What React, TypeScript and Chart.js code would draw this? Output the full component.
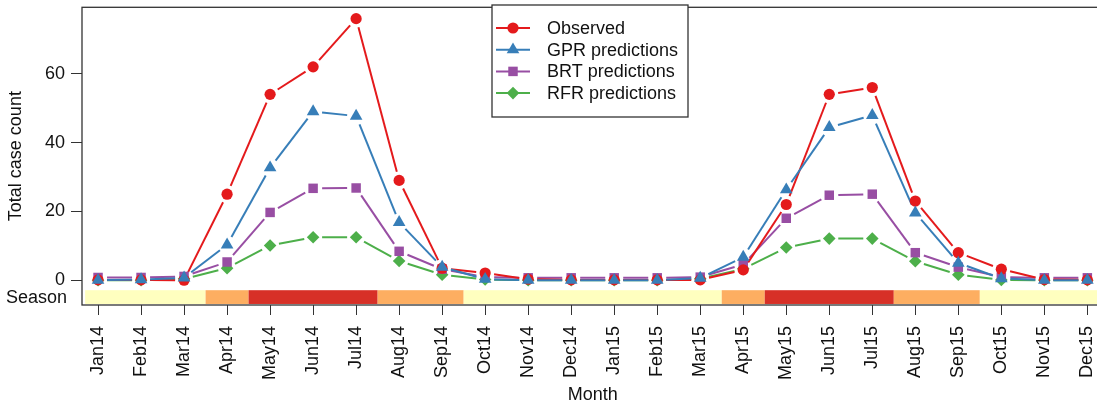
import React, { useEffect, useRef } from 'react';
import { Chart, registerables } from 'chart.js';

Chart.register(...registerables);

const months = [
  'Jan14', 'Feb14', 'Mar14', 'Apr14', 'May14', 'Jun14', 'Jul14', 'Aug14', 'Sep14', 'Oct14', 'Nov14', 'Dec14',
  'Jan15', 'Feb15', 'Mar15', 'Apr15', 'May15', 'Jun15', 'Jul15', 'Aug15', 'Sep15', 'Oct15', 'Nov15', 'Dec15',
];

const observed = [0.1, 0.1, 0, 25, 54, 62, 76, 29, 3.5, 2.1, 0.3, 0.1, 0.1, 0.1, 0.1, 3, 22, 54, 56, 23, 8, 3.2, 0.2, 0.1];
const gprPred = [0, 0.2, 0.7, 10.3, 32.7, 49, 47.7, 16.8, 3.8, 0.3, 0, 0, 0, 0, 0.6, 6.7, 26.3, 44.4, 47.9, 19.6, 5, 0.5, 0, 0];
const brtPred = [0.8, 0.8, 1.1, 5.3, 19.7, 26.7, 26.8, 8.4, 3.2, 0.9, 0.7, 0.7, 0.7, 0.7, 0.9, 4.6, 18, 24.7, 25, 8, 3.8, 0.9, 0.7, 0.7];
const rfrPred = [0, 0, 0.4, 3.5, 10.1, 12.5, 12.5, 5.6, 1.6, 0.2, 0, 0, 0, 0, 0.4, 3.3, 9.5, 12.1, 12.1, 5.5, 1.6, 0.1, 0, 0];

const seasons = [
  'Low', 'Low', 'Low', 'Mid', 'High', 'High', 'High', 'Mid', 'Mid', 'Low', 'Low', 'Low',
  'Low', 'Low', 'Low', 'Mid', 'High', 'High', 'High', 'Mid', 'Mid', 'Low', 'Low', 'Low',
];

const yTicks = [0, 20, 40, 60];

const seasonColors: Record<string, string> = { Low: '#FFFFBF', Mid: '#FDAE61', High: '#D73027' };

const seriesNames = ['Observed', 'GPR predictions', 'BRT predictions', 'RFR predictions'];
const seriesValues = [observed, gprPred, brtPred, rfrPred];
const seriesColors = ['#E41A1C', '#377EB8', '#984EA3', '#4DAF4A'];
const seriesShapes = ['circle', 'triangle', 'rect', 'rectRot'];
const seriesRadius = [5.6, 7.3, 6.7, 6.3];
const seriesOrder = [1, 0, 2, 3];

const FONT = "'Liberation Sans', Arial, Helvetica, sans-serif";
const TEXT = '#111';

function drawMarker(ctx: CanvasRenderingContext2D, shape: string, x: number, y: number, r: number, color: string) {
  ctx.save();
  ctx.fillStyle = color;
  ctx.beginPath();
  if (shape === 'circle') {
    ctx.arc(x, y, r, 0, Math.PI * 2);
  } else if (shape === 'triangle') {
    ctx.moveTo(x, y - r);
    ctx.lineTo(x + r * Math.sqrt(3) / 2, y + r / 2);
    ctx.lineTo(x - r * Math.sqrt(3) / 2, y + r / 2);
    ctx.closePath();
  } else if (shape === 'rect') {
    const s = r * Math.SQRT1_2;
    ctx.rect(x - s, y - s, 2 * s, 2 * s);
  } else {
    ctx.moveTo(x - r, y);
    ctx.lineTo(x, y - r);
    ctx.lineTo(x + r, y);
    ctx.lineTo(x, y + r);
    ctx.closePath();
  }
  ctx.fill();
  ctx.restore();
}

const backgroundPlugin = {
  id: 'rBackground',
  beforeDatasetsDraw(chart: any) {
    const { ctx, chartArea: a, scales } = chart;
    const xs = scales.x;
    const ys = scales.y;
    ctx.save();
    // season band, drawn as contiguous runs
    const yTop = ys.getPixelForValue(-2.9);
    const yBot = ys.getPixelForValue(-6.9);
    let start = 0;
    for (let i = 1; i <= seasons.length; i++) {
      if (i === seasons.length || seasons[i] !== seasons[start]) {
        const l = Math.max(start - 0.5, -0.3);
        const r = Math.min(i - 0.5, 23.3);
        const x0 = xs.getPixelForValue(l);
        const x1 = xs.getPixelForValue(r);
        ctx.fillStyle = seasonColors[seasons[start]];
        ctx.fillRect(x0, yTop, x1 - x0, yBot - yTop);
        start = i;
      }
    }
    // box
    ctx.strokeStyle = '#333';
    ctx.lineWidth = 1.3;
    ctx.strokeRect(a.left, a.top, a.right - a.left, a.bottom - a.top);
    // lines with gaps (R type "b")
    ctx.beginPath();
    ctx.rect(a.left, a.top, a.right - a.left, a.bottom - a.top);
    ctx.clip();
    const gap = 9;
    const drawOrder = [3, 2, 0, 1];
    drawOrder.forEach((k) => {
      const vals = seriesValues[k];
      ctx.strokeStyle = seriesColors[k];
      ctx.lineWidth = 2;
      ctx.lineCap = 'butt';
      for (let i = 0; i < vals.length - 1; i++) {
        const x0 = xs.getPixelForValue(i);
        const y0 = ys.getPixelForValue(vals[i]);
        const x1 = xs.getPixelForValue(i + 1);
        const y1 = ys.getPixelForValue(vals[i + 1]);
        const dx = x1 - x0;
        const dy = y1 - y0;
        const len = Math.hypot(dx, dy);
        if (len <= 2 * gap) continue;
        const ux = dx / len;
        const uy = dy / len;
        ctx.beginPath();
        ctx.moveTo(x0 + ux * gap, y0 + uy * gap);
        ctx.lineTo(x1 - ux * gap, y1 - uy * gap);
        ctx.stroke();
      }
    });
    ctx.restore();
  },
  afterDatasetsDraw(chart: any) {
    const { ctx } = chart;
    ctx.save();
    // legend
    const lx0 = 492;
    const lx1 = 688;
    const ly0 = 5;
    const ly1 = 117;
    ctx.fillStyle = '#fff';
    ctx.fillRect(lx0, ly0, lx1 - lx0, ly1 - ly0);
    ctx.strokeStyle = '#333';
    ctx.lineWidth = 1.3;
    ctx.strokeRect(lx0, ly0, lx1 - lx0, ly1 - ly0);
    ctx.font = `18px ${FONT}`;
    ctx.textAlign = 'left';
    ctx.textBaseline = 'middle';
    seriesNames.forEach((name, k) => {
      const y = 28 + k * 21.7;
      ctx.strokeStyle = seriesColors[k];
      ctx.lineWidth = 2;
      ctx.beginPath();
      ctx.moveTo(496, y);
      ctx.lineTo(530, y);
      ctx.stroke();
      drawMarker(ctx, seriesShapes[k], 513, y, seriesRadius[k], seriesColors[k]);
      ctx.fillStyle = TEXT;
      ctx.fillText(name, 547, y + 1);
    });
    ctx.restore();
  },
  afterDraw(chart: any) {
    const { ctx } = chart;
    ctx.save();
    ctx.font = `18px ${FONT}`;
    ctx.fillStyle = TEXT;
    ctx.textAlign = 'right';
    ctx.textBaseline = 'middle';
    ctx.fillText('Season', 67, 298);
    ctx.restore();
  },
};

export default function App() {
  const canvasRef = useRef<HTMLCanvasElement | null>(null);

  useEffect(() => {
    if (!canvasRef.current) return;
    Chart.defaults.font.family = FONT;
    const chart = new Chart(canvasRef.current, {
      type: 'line',
      data: {
        datasets: seriesNames.map((name, k) => ({
          label: name,
          data: seriesValues[k].map((v, i) => ({ x: i, y: v })),
          showLine: false,
          pointStyle: seriesShapes[k] as any,
          pointRadius: seriesRadius[k],
          pointBackgroundColor: seriesColors[k],
          pointBorderWidth: 0,
          pointBorderColor: seriesColors[k],
          backgroundColor: seriesColors[k],
          borderColor: seriesColors[k],
          order: seriesOrder[k],
          clip: false as any,
        })),
      },
      options: {
        responsive: false,
        animation: false,
        events: [],
        layout: { padding: { top: 4, right: 5, left: 0, bottom: 0 } },
        plugins: { legend: { display: false }, tooltip: { enabled: false } },
        scales: {
          x: {
            type: 'linear',
            min: -0.373,
            max: 23.38,
            afterBuildTicks: (s: any) => {
              s.ticks = months.map((_, i) => ({ value: i }));
            },
            afterFit: (s: any) => {
              s.height = 96;
              s.paddingLeft = 0;
              s.paddingRight = 0;
            },
            ticks: {
              autoSkip: false,
              minRotation: 90,
              maxRotation: 90,
              padding: 11,
              color: TEXT,
              font: { size: 18 },
              callback: (v: any) => months[Math.round(Number(v))],
            },
            grid: { drawOnChartArea: false, drawTicks: true, tickLength: 10, color: '#333', lineWidth: 1 },
            border: { display: false },
            title: { display: true, text: 'Month', color: TEXT, font: { size: 18 }, padding: { top: 0, bottom: -5 } },
          },
          y: {
            min: -7.2,
            max: 79.3,
            afterBuildTicks: (s: any) => {
              s.ticks = yTicks.map((v) => ({ value: v }));
            },
            afterFit: (s: any) => {
              s.width = 82;
              s.paddingTop = 0;
              s.paddingBottom = 0;
            },
            ticks: { color: TEXT, font: { size: 18 }, padding: 6 },
            grid: { drawOnChartArea: false, drawTicks: true, tickLength: 11, color: '#333', lineWidth: 1 },
            border: { display: false },
            title: { display: true, text: 'Total case count', color: TEXT, font: { size: 18 }, padding: { top: 5, bottom: 0 } },
          },
        },
      },
      plugins: [backgroundPlugin],
    } as any);
    return () => chart.destroy();
  }, []);

  return (
    <div style={{ position: 'fixed', left: 0, top: 0, width: 1097, height: 401, overflow: 'hidden', background: '#fff' }}>
      <canvas ref={canvasRef} width={1111} height={401} style={{ display: 'block' }} />
    </div>
  );
}
